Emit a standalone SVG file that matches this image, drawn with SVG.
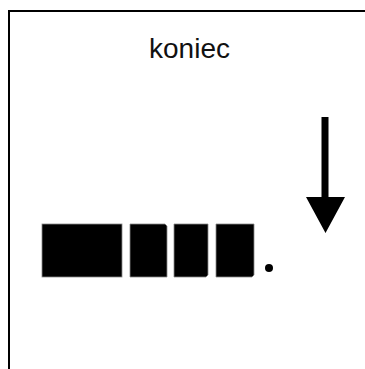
<svg xmlns="http://www.w3.org/2000/svg" width="365" height="369" viewBox="0 0 365 369">
<style>
.blk{fill:#000;stroke:#888;stroke-width:0.8}
.lbl{font-family:"Liberation Sans",Arial,sans-serif;font-size:28px;fill:#111}
</style>
<rect width="365" height="369" fill="#fff"/>
<g id="frame">
<path d="M9,369 V11 H365" fill="none" stroke="#000" stroke-width="2"/>
</g>
<g id="title">
<text class="lbl" x="189.5" y="58" text-anchor="middle">koniec</text>
</g>
<g id="blocks">
<rect class="blk" x="42" y="224" width="80" height="53"/>
<path class="blk" d="M130,224 H165 L167,226 V277 H130 Z"/>
<path class="blk" d="M174,224 H208 V275 L206,277 H174 Z"/>
<path class="blk" d="M216,224 H254 V275 L252,277 H216 Z"/>
<circle cx="269" cy="268" r="4" fill="#000"/>
</g>
<g id="arrow">
<path d="M321.5,117 H328.5 V197 H345 L325.5,233 L306,197 H321.5 Z" fill="#000"/>
</g>
</svg>
